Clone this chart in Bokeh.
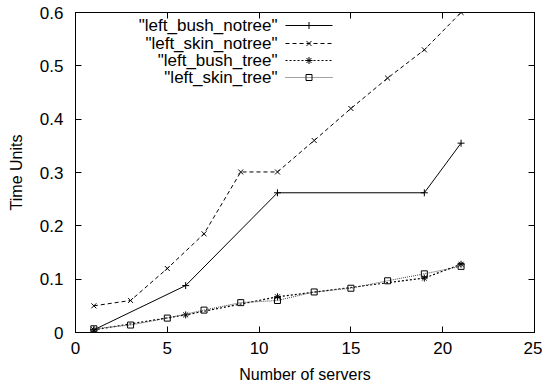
from bokeh.plotting import figure
from bokeh.models import Range1d, FixedTicker, LinearAxis, Label, Arrow, CustomJSTickFormatter
from bokeh.embed import file_html
from bokeh.resources import INLINE

# ---- data ----
x_bush_notree = [1, 6, 11, 19, 21]
y_bush_notree = [0.005, 0.088, 0.262, 0.262, 0.355]

x_skin_notree = [1, 3, 5, 7, 9, 11, 13, 15, 17, 19, 21]
y_skin_notree = [0.050, 0.060, 0.120, 0.185, 0.301, 0.301, 0.360, 0.420, 0.477, 0.530, 0.600]

x_bush_tree = [1, 6, 11, 19, 21]
y_bush_tree = [0.005, 0.033, 0.067, 0.102, 0.128]

x_skin_tree = [1, 3, 5, 7, 9, 11, 13, 15, 17, 19, 21]
y_skin_tree = [0.007, 0.014, 0.027, 0.042, 0.056, 0.060, 0.076, 0.083, 0.097, 0.110, 0.124]

series_names = ['"left_bush_notree"', '"left_skin_notree"', '"left_bush_tree"', '"left_skin_tree"']
x_ticks = [0, 5, 10, 15, 20, 25]
y_ticks = [0, 0.1, 0.2, 0.3, 0.4, 0.5, 0.6]
y_tick_labels = ["0", "0.1", "0.2", "0.3", "0.4", "0.5", "0.6"]

FONT = "Liberation Sans"
FS = "17px"
FW, FH = 459, 320
XMAX, YMAX = 25, 0.6

p = figure(frame_width=FW, frame_height=FH, output_backend="svg", toolbar_location=None,
           x_range=Range1d(0, XMAX), y_range=Range1d(0, YMAX),
           min_border_left=75, min_border_top=12, min_border_right=8, min_border_bottom=50)
p.background_fill_color = "white"
p.border_fill_color = "white"
p.outline_line_color = "black"
p.outline_line_width = 1
p.xgrid.visible = False
p.ygrid.visible = False

def style_axis(ax):
    ax.major_tick_in = 6
    ax.major_tick_out = 0
    ax.minor_tick_line_color = None
    ax.axis_line_color = "black"
    ax.major_tick_line_color = "black"
    ax.major_label_text_font = FONT
    ax.major_label_text_font_size = FS
    ax.major_label_text_color = "black"
    ax.axis_label_text_font = FONT
    ax.axis_label_text_font_size = "16px"
    ax.axis_label_text_font_style = "normal"
    ax.axis_label_text_color = "black"

p.xaxis.ticker = FixedTicker(ticks=x_ticks)
p.yaxis.ticker = FixedTicker(ticks=y_ticks)
p.yaxis.major_label_overrides = {t: l for t, l in zip(y_ticks, y_tick_labels)}
p.xaxis.axis_label = "Number of servers"
p.yaxis.axis_label = "Time Units"
style_axis(p.xaxis[0])
style_axis(p.yaxis[0])
p.xaxis.major_label_standoff = 9
p.yaxis.major_label_standoff = 12
p.xaxis.axis_label_standoff = 9
p.yaxis.axis_label_standoff = 12

blank = CustomJSTickFormatter(code="return '';")
ax_top = LinearAxis(ticker=FixedTicker(ticks=x_ticks), formatter=blank)
style_axis(ax_top)
ax_top.major_label_standoff = 0
p.add_layout(ax_top, "above")
ax_right = LinearAxis(ticker=FixedTicker(ticks=y_ticks), formatter=blank)
style_axis(ax_right)
ax_right.major_label_standoff = 0
p.add_layout(ax_right, "right")

# ---- series ----
styles = [
    dict(x=x_bush_notree, y=y_bush_notree, dash="solid", marker="cross", color="black", lw=1.0, size=7),
    dict(x=x_skin_notree, y=y_skin_notree, dash="4 3", marker="x", color="black", lw=1.0, size=7),
    dict(x=x_bush_tree, y=y_bush_tree, dash="2 2", marker="asterisk", color="black", lw=1.2, size=7),
    dict(x=x_skin_tree, y=y_skin_tree, dash="1 1", marker="square", color="#444444", lw=1.0, size=6),
]
for s in styles:
    p.line(s["x"], s["y"], line_color=s["color"], line_dash=s["dash"], line_width=s["lw"])
    p.scatter(s["x"], s["y"], marker=s["marker"], size=s["size"],
              line_color="black", fill_color=None, line_width=1)

# ---- legend (gnuplot style: text, then sample) ----
text_right = 202
line_x0, line_x1 = 210, 257
row_y = [307, 289, 272, 255]
for name, s, yy in zip(series_names, styles, row_y):
    p.add_layout(Label(x=text_right, y=yy, x_units="screen", y_units="screen", text=name,
                       text_align="right", text_baseline="middle", text_font=FONT,
                       text_font_size=FS, text_color="black"))
    p.add_layout(Arrow(x_start=line_x0, y_start=yy, x_end=line_x1, y_end=yy,
                       start_units="screen", end_units="screen", end=None,
                       line_color=s["color"], line_dash=s["dash"], line_width=s["lw"]))
    mx = (line_x0 + line_x1) / 2 / FW * XMAX
    my = yy / FH * YMAX
    p.scatter([mx], [my], marker=s["marker"], size=s["size"],
              line_color="black", fill_color=None, line_width=1)

open("out.html", "w").write(file_html(p, INLINE))
